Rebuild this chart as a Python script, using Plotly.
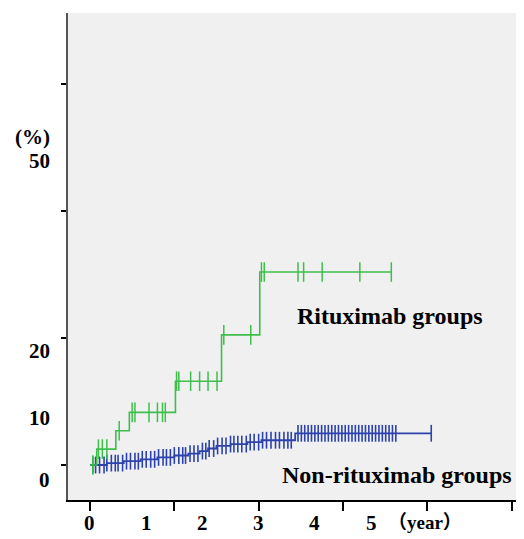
import plotly.graph_objects as go

# ---- data (years, cumulative %) ----
ritux_times = [0, 0.12, 0.46, 0.70, 1.52, 2.34, 3.02, 5.36]
ritux_vals = [0, 2.5, 5.4, 8.3, 13.2, 20.5, 30.4, 30.4]
ritux_censor = [0.05, 0.15, 0.22, 0.30, 0.52, 0.75, 0.80, 1.05, 1.20, 1.29, 1.34,
                1.54, 1.58, 1.79, 1.95, 2.10, 2.26, 2.38, 2.86, 3.05, 3.10, 3.70,
                3.80, 4.13, 4.80, 5.36]

nonr_times = [0, 0.3, 0.6, 0.9, 1.2, 1.5, 1.75, 1.95, 2.1, 2.25, 2.5, 2.8, 3.05, 3.65, 6.07]
nonr_vals = [0, 0.3, 0.6, 0.9, 1.2, 1.5, 1.8, 2.2, 2.6, 3.0, 3.3, 3.6, 3.9, 5.0, 5.0]
nonr_censor = [0.05, 0.10, 0.17, 0.25, 0.30, 0.38, 0.45, 0.50, 0.58, 0.65, 0.72, 0.80,
               0.86, 0.93, 1.00, 1.08, 1.15, 1.22, 1.30, 1.36, 1.43, 1.50, 1.58, 1.65,
               1.70, 1.78, 1.85, 1.92, 2.00, 2.06, 2.12, 2.20, 2.27, 2.35, 2.42, 2.50,
               2.56, 2.63, 2.70, 2.78, 2.85, 2.92, 3.00, 3.07, 3.14, 3.22, 3.30, 3.37,
               3.45, 3.52, 3.58, 3.70, 3.76, 3.82, 3.88, 3.94, 4.00, 4.06, 4.12, 4.18,
               4.24, 4.30, 4.36, 4.42, 4.48, 4.54, 4.60, 4.66, 4.72, 4.78, 4.84, 4.90,
               4.96, 5.02, 5.08, 5.14, 5.20, 5.26, 5.32, 5.38, 5.44, 6.07]

x_tick_marks = [0, 1.5, 3, 4.5, 6, 7.5]
y_tick_marks = [0, 20, 40, 60]
x_labels = ["0", "1", "2", "3", "4", "5"]
x_label_pos = [0, 1, 2, 3, 4, 5]
y_labels = ["0", "10", "20", "50", "(%)"]
y_label_pos = [-2.4, 7.4, 17.9, 47.9, 51.6]


def step_value(times, vals, t):
    v = vals[0]
    for ti, vi in zip(times, vals):
        if ti <= t:
            v = vi
    return v


GREEN = "#3dbf4a"
BLUE = "#2c43ad"
FONT = "Liberation Serif, Times New Roman, Noto Sans CJK SC, serif"

fig = go.Figure()
fig.add_trace(go.Scatter(x=nonr_times, y=nonr_vals, mode="lines", line_shape="hv",
                         line=dict(color=BLUE, width=1.8), hoverinfo="skip"))
fig.add_trace(go.Scatter(x=nonr_censor,
                         y=[step_value(nonr_times, nonr_vals, t) for t in nonr_censor],
                         mode="markers",
                         marker=dict(symbol="line-ns", size=12,
                                     line=dict(color=BLUE, width=1.6))))
fig.add_trace(go.Scatter(x=ritux_times, y=ritux_vals, mode="lines", line_shape="hv",
                         line=dict(color=GREEN, width=1.6), hoverinfo="skip"))
fig.add_trace(go.Scatter(x=ritux_censor,
                         y=[step_value(ritux_times, ritux_vals, t) for t in ritux_censor],
                         mode="markers",
                         marker=dict(symbol="line-ns", size=14,
                                     line=dict(color=GREEN, width=1.5))))

annotations = []
for lab, pos in zip(x_labels, x_label_pos):
    annotations.append(dict(x=pos, y=-0.047, xref="x", yref="paper", text=lab,
                            showarrow=False, xanchor="center", yanchor="middle",
                            font=dict(family=FONT, size=21, color="black", weight="bold")))
annotations.append(dict(x=5.26, y=-0.047, xref="x", yref="paper", text="（year）",
                        showarrow=False, xanchor="left", yanchor="middle",
                        font=dict(family=FONT, size=19, color="black", weight="bold")))
for lab, pos in zip(y_labels, y_label_pos):
    annotations.append(dict(x=-0.036, y=pos, xref="paper", yref="y", text=lab,
                            showarrow=False, xanchor="right", yanchor="middle",
                            font=dict(family=FONT, size=21, color="black", weight="bold")))
annotations.append(dict(x=5.34, y=23.5, xref="x", yref="y", text="Rituximab groups",
                        showarrow=False, xanchor="center", yanchor="middle",
                        font=dict(family=FONT, size=24, color="black", weight="bold")))
annotations.append(dict(x=5.46, y=-1.6, xref="x", yref="y", text="Non-rituximab groups",
                        showarrow=False, xanchor="center", yanchor="middle",
                        font=dict(family=FONT, size=24, color="black", weight="bold")))

# the page body has an 8px default margin; size the figure to fill the rest
fig.update_layout(
    width=516, height=531,
    margin=dict(l=60, r=0, t=5, b=39),
    paper_bgcolor="white", plot_bgcolor="#f0f0f0",
    showlegend=False,
    annotations=annotations,
    xaxis=dict(range=[-0.391, 7.72], tickvals=x_tick_marks, ticktext=[""] * len(x_tick_marks),
               ticks="outside", ticklen=9, tickwidth=1.5, tickcolor="black",
               showgrid=False, zeroline=False, showline=True, linecolor="black",
               linewidth=2),
    yaxis=dict(range=[-5.51, 71.2], tickvals=y_tick_marks, ticktext=[""] * len(y_tick_marks),
               ticks="outside", ticklen=5, tickwidth=2, tickcolor="black",
               showgrid=False, zeroline=False, showline=True, linecolor="#555555",
               linewidth=2),
)

fig.write_html("out.html")
